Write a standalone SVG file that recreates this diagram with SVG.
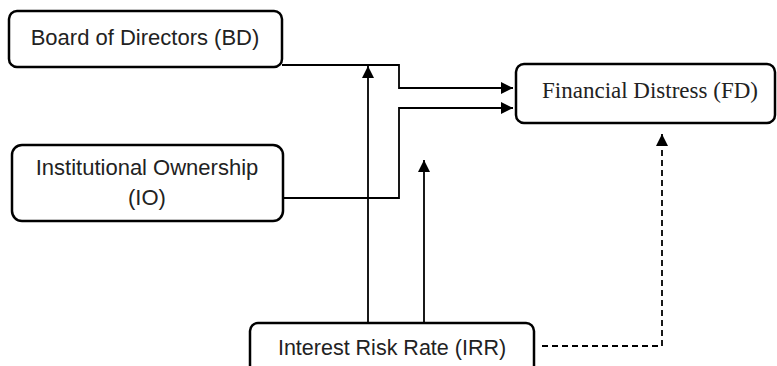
<svg xmlns="http://www.w3.org/2000/svg" width="777" height="366" viewBox="0 0 777 366">
<style>
.box{fill:#fff;stroke:#000;stroke-width:2.5}
.t{font-family:"Liberation Sans",Arial,sans-serif;font-size:22px;fill:#222;text-anchor:middle}
.s{font-family:"Liberation Serif","Times New Roman",serif;font-size:23px;fill:#222;text-anchor:middle}
.c{fill:none;stroke:#000;stroke-width:1.8}
.d{stroke-dasharray:6,4}
</style>
<defs>
<marker id="ahl" viewBox="0 0 10 10" refX="10" refY="5" markerWidth="12" markerHeight="12" markerUnits="userSpaceOnUse" orient="auto">
<path d="M0,0 L10,5 L0,10 z" fill="#000"/>
</marker>
</defs>
<g id="connectors">
<path class="c" d="M282,65 H399 V88 H513" marker-end="url(#ahl)"/>
<path class="c" d="M284,198 H399 V108 H513" marker-end="url(#ahl)"/>
<path class="c" d="M368,323 V66" marker-end="url(#ahl)"/>
<path class="c" d="M424,323 V160" marker-end="url(#ahl)"/>
<path class="c d" d="M542,346 H662 V134" marker-end="url(#ahl)"/>
</g>
<g id="BD">
<rect class="box" x="9" y="11" width="273" height="56" rx="8"/>
<text class="t" x="145" y="45">Board of Directors (BD)</text>
</g>
<g id="FD">
<rect class="box" x="516" y="64" width="259" height="59" rx="8"/>
<text class="s" x="650" y="98">Financial Distress (FD)</text>
</g>
<g id="IO">
<rect class="box" x="12" y="145" width="271" height="76" rx="10"/>
<text class="t" x="147" y="175">Institutional Ownership</text>
<text class="t" x="147" y="205">(IO)</text>
</g>
<g id="IRR">
<rect class="box" x="250" y="323" width="284" height="60" rx="8"/>
<text class="t" x="392" y="355" style="font-size:21.5px">Interest Risk Rate (IRR)</text>
</g>
</svg>
